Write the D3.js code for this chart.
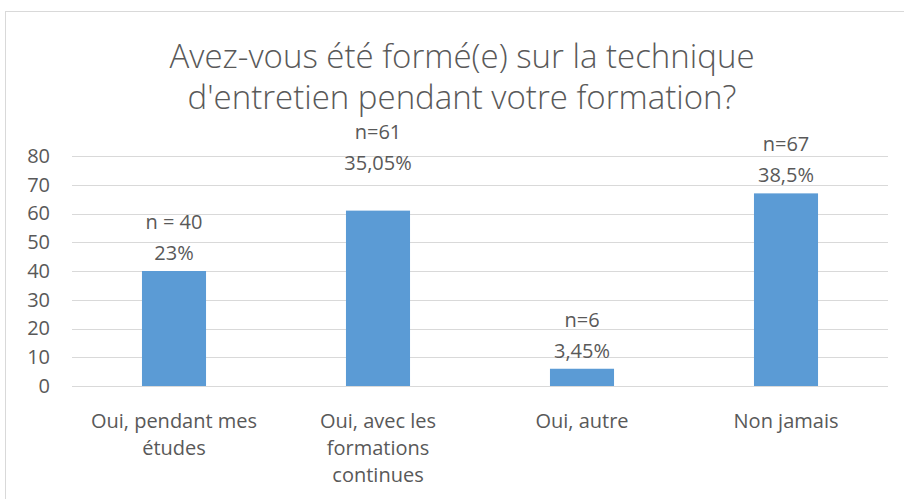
<!DOCTYPE html>
<html>
<head>
<meta charset="utf-8">
<script src="https://cdn.jsdelivr.net/npm/d3@7"></script>
<style>
  body { margin: 0; background: #fff; }
  text { font-family: "Open Sans", Lato, sans-serif; fill: #595959; }
</style>
</head>
<body>
<div id="chart"></div>
<script>
// Chart data
const categories = ["Oui, pendant mes\nétudes", "Oui, avec les\nformations\ncontinues", "Oui, autre", "Non jamais"];
const counts = [40, 61, 6, 67];
const countLabels = ["n = 40", "n=61", "n=6", "n=67"];
const percentLabels = ["23%", "35,05%", "3,45%", "38,5%"];
const yTicks = [0, 10, 20, 30, 40, 50, 60, 70, 80];
const titleLines = ["Avez-vous été formé(e) sur la technique", "d'entretien pendant votre formation?"];

const width = 904;
const height = 499;
const margin = { top: 156, right: 16, bottom: 113, left: 72 };

const svg = d3.select("#chart")
    .append("svg")
    .attr("width", width)
    .attr("height", height);

// chart border
svg.append("rect")
    .attr("x", 5.5)
    .attr("y", 11.5)
    .attr("width", width + 10)
    .attr("height", height + 10)
    .attr("fill", "none")
    .attr("stroke", "#d9d9d9");

const x = d3.scaleBand()
    .domain(categories)
    .range([margin.left, width - margin.right])
    .paddingInner(0.686)
    .paddingOuter(0.343);

const y = d3.scaleLinear()
    .domain([0, 80])
    .range([height - margin.bottom, margin.top]);

// gridlines
svg.append("g")
    .selectAll("line")
    .data(yTicks)
    .join("line")
    .attr("x1", margin.left)
    .attr("x2", width - margin.right)
    .attr("y1", d => Math.round(y(d)) + 0.5)
    .attr("y2", d => Math.round(y(d)) + 0.5)
    .attr("stroke", "#d9d9d9")
    .attr("stroke-width", 1);

// y axis labels
const yAxis = svg.append("g")
    .attr("transform", `translate(${margin.left - 22},0)`)
    .call(d3.axisLeft(y).tickValues(yTicks).tickSize(0).tickPadding(0));
yAxis.select(".domain").remove();
yAxis.selectAll("text")
    .style("font-size", "20px")
    .style("font-family", "'Open Sans', sans-serif")
    .attr("fill", "#595959");

// bars
svg.append("g")
    .selectAll("rect")
    .data(counts)
    .join("rect")
    .attr("x", (d, i) => x(categories[i]))
    .attr("y", d => y(d))
    .attr("width", x.bandwidth())
    .attr("height", d => y(0) - y(d))
    .attr("fill", "#5b9bd5");

// data labels (second one was moved up by hand in the original)
const nudge = [0, -30, 0, 0];
const labels = svg.append("g")
    .selectAll("g")
    .data(counts)
    .join("g")
    .attr("transform", (d, i) => `translate(${x(categories[i]) + x.bandwidth() / 2},${y(d) - 11 + nudge[i]})`);

labels.append("text")
    .attr("text-anchor", "middle")
    .attr("y", -31)
    .style("font-size", "20px")
    .text((d, i) => countLabels[i]);

labels.append("text")
    .attr("text-anchor", "middle")
    .style("font-size", "20px")
    .text((d, i) => percentLabels[i]);

// x axis labels
const xAxis = svg.append("g")
    .attr("transform", `translate(0,${y(0)})`)
    .call(d3.axisBottom(x).tickSize(0).tickFormat(""));
xAxis.select(".domain").remove();

xAxis.selectAll(".tick")
    .append("text")
    .attr("text-anchor", "middle")
    .style("font-size", "20px")
    .selectAll("tspan")
    .data(d => d.split("\n"))
    .join("tspan")
    .attr("x", 0)
    .attr("y", (d, i) => 42 + i * 27)
    .text(d => d);

// title
svg.append("g")
    .selectAll("text")
    .data(titleLines)
    .join("text")
    .attr("x", 462)
    .attr("y", (d, i) => 68 + i * 41)
    .attr("text-anchor", "middle")
    .style("font-size", "33px")
    .style("font-weight", 300)
    .text(d => d);
</script>
</body>
</html>
